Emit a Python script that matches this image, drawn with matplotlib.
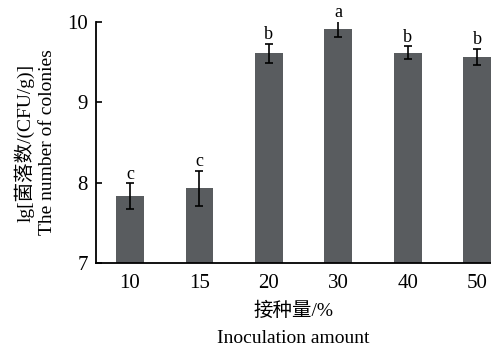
import matplotlib
matplotlib.use("Agg")
import matplotlib.pyplot as plt
import numpy as np

plt.rcParams['font.family'] = ['Liberation Serif', 'Noto Sans CJK SC']

amounts = ['10', '15', '20', '30', '40', '50']
counts = [7.83, 7.93, 9.61, 9.91, 9.62, 9.57]
errors = [0.16, 0.22, 0.12, 0.10, 0.08, 0.10]
groups = ['c', 'c', 'b', 'a', 'b', 'b']

fig = plt.figure(figsize=(4.91, 3.47), dpi=100)
ax = fig.add_axes([96 / 491, 1 - 263 / 347, 1 - 96 / 491, (263 - 22) / 347])

x = np.arange(len(amounts))
ax.bar(x, [c - 7 for c in counts], bottom=7, width=0.4, color='#595c5f', zorder=2)
ax.errorbar(x, counts, yerr=errors, fmt='none', ecolor='black',
            elinewidth=1.2, capsize=2.6, capthick=1.2, zorder=3)

for xi, c, e, g in zip(x, counts, errors, groups):
    ax.text(xi, c + e + 0.005, g, ha='center', va='bottom', fontsize=13)

ax.set_xlim(-0.49, 5.2)
ax.set_ylim(7, 10)
ax.set_yticks([7, 8, 9, 10])
ax.set_xticks(x)
ax.set_xticklabels(amounts)
ax.tick_params(axis='y', direction='in', length=4, width=1.2, labelsize=15, pad=6)
ax.tick_params(axis='x', length=0, labelsize=15, pad=8)

for side in ['top', 'right']:
    ax.spines[side].set_visible(False)
for side in ['left', 'bottom']:
    ax.spines[side].set_linewidth(1.3)

ax.set_ylabel('lg[菌落数/(CFU/g)]\nThe number of colonies', fontsize=14,
              linespacing=1.3, labelpad=8)
ax.set_xlabel('接种量/%\nInoculation amount', fontsize=14, linespacing=1.75,
              labelpad=6)

fig.savefig('out.png', dpi=100)
